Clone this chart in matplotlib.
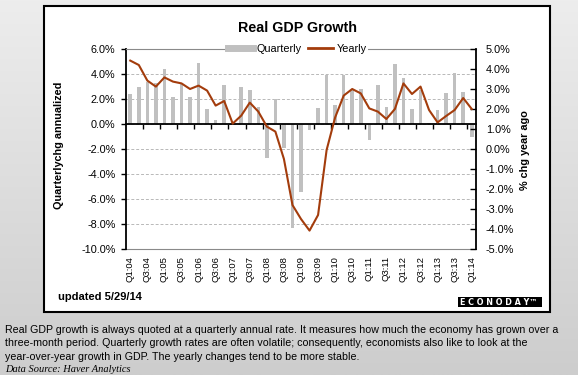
import numpy as np
import matplotlib
matplotlib.use("Agg")
import matplotlib.pyplot as plt
from matplotlib.patches import Rectangle
from matplotlib.lines import Line2D
from matplotlib.ticker import FuncFormatter

plt.rcParams['font.family'] = ['Liberation Sans', 'DejaVu Sans']

# ---------------- data ----------------
quarters = [f"Q{q}:{y:02d}" for y in range(4, 15) for q in (1, 2, 3, 4)][:41]
quarterly = [2.4, 3.0, 3.4, 3.3, 4.4, 2.2, 3.2, 2.2, 4.9, 1.2, 0.3, 3.1, 0.2, 3.0,
             2.7, 1.4, -2.7, 2.0, -1.9, -8.3, -5.4, -0.5, 1.3, 3.9, 1.5, 3.9, 2.7,
             2.8, -1.3, 3.1, 1.4, 4.8, 3.7, 1.2, 2.7, 0.1, 1.1, 2.5, 4.1, 2.6, -1.0]
yearly = [4.42, 4.2, 3.42, 3.12, 3.58, 3.37, 3.28, 3.0, 3.17, 2.92, 2.17, 2.4, 1.27,
          1.67, 2.32, 1.87, 1.12, 0.87, -0.5, -2.8, -3.5, -4.08, -3.3, -0.05, 1.58,
          2.67, 3.0, 2.78, 2.03, 1.87, 1.5, 2.0, 3.28, 2.75, 3.12, 1.95, 1.33, 1.65,
          1.95, 2.55, 2.0]
left_ticks = [-10, -8, -6, -4, -2, 0, 2, 4, 6]
right_ticks = [-5, -4, -3, -2, -1, 0, 1, 2, 3, 4, 5]

BAR = '#c0c0c0'
LINE = '#a33c0c'
W, H = 578, 375

fig = plt.figure(figsize=(W / 100, H / 100), dpi=100)

# background (pixel coordinates)
bg = fig.add_axes([0, 0, 1, 1])
bg.set_xlim(0, W)
bg.set_ylim(H, 0)
bg.axis('off')
grad = np.linspace(0, 1, 256).reshape(-1, 1)
bg.imshow(grad, extent=[0, W, H, 0], aspect='auto',
          cmap=matplotlib.colors.LinearSegmentedColormap.from_list('g', ['#ededed', '#cdcdcd']),
          zorder=0)
bg.add_patch(Rectangle((44, 6), 506, 306, facecolor='white', edgecolor='black', lw=1.5, zorder=1))
bg.add_patch(Rectangle((458, 297), 84, 10, facecolor='black', edgecolor='none', zorder=2))
bg.text(499, 302.3, 'E C O N O D A Y\u2122', color='white', fontsize=5.8, fontweight='bold',
        family='DejaVu Sans', ha='center', va='center', zorder=3)
bg.text(297, 28, 'Real GDP Growth', fontsize=10.3, fontweight='bold', ha='center', va='center')
bg.text(58, 297, 'updated 5/29/14', fontsize=8, fontweight='bold', ha='left', va='center')
bg.text(58.5, 145, 'Quarterlychg annualized', fontsize=7.8, fontweight='bold',
        rotation=90, ha='center', va='center')
bg.text(524.5, 150, '% chg year ago', fontsize=7.8, fontweight='bold',
        rotation=90, ha='center', va='center')
desc = ["Real GDP growth is always quoted at a quarterly annual rate. It measures how much the economy has grown over a",
        "three-month period. Quarterly growth rates are often volatile; consequently, economists also like to look at the",
        "year-over-year growth in GDP. The yearly changes tend to be more stable."]
for i, line in enumerate(desc):
    bg.text(5, 330 + i * 13.5, line, fontsize=7.65, ha='left', va='center')
bg.text(5, 369, 'Data Source: Haver Analytics', fontsize=7.5, style='italic',
        family='Liberation Serif', ha='left', va='center')

# main axes
ax = fig.add_axes([126 / W, 1 - 249 / H, 350 / W, 200 / H])
x = np.arange(len(quarterly))
ax.bar(x, quarterly, width=0.42, color=BAR, zorder=2)
ax.set_xlim(-0.5, len(x) - 0.5)
ax.set_ylim(-10, 6)
ax.set_yticks(left_ticks)
ax.yaxis.set_major_formatter(FuncFormatter(lambda v, p: f"{v:.1f}%"))
ax.yaxis.grid(True, linestyle=(0, (3, 2)), color='#b8b8b8', lw=0.7)
ax.set_axisbelow(True)
ax.tick_params(axis='y', direction='out', length=3.5, width=1, pad=4, labelsize=7.8)
ax.spines['right'].set_visible(False)
ax.spines['top'].set_color('#8a8a8a')
ax.spines['left'].set_linewidth(1.3)
ax.spines['bottom'].set_position(('data', 0))
ax.spines['bottom'].set_linewidth(1.3)
ax.set_xticks(np.arange(1.5, len(x) - 1, 2))
ax.tick_params(axis='x', direction='out', length=3.5, width=1, labelbottom=False)

sec = ax.secondary_xaxis('bottom')
sec.set_xticks(x[::2], [quarters[i] for i in x[::2]])
sec.tick_params(axis='x', length=0, pad=5, labelsize=6.8, labelrotation=90)
sec.spines['bottom'].set_color('#8a8a8a')

ax2 = ax.twinx()
ax2.plot(x, yearly, color=LINE, lw=1.5, zorder=3)
ax2.set_ylim(-5, 5)
ax2.set_yticks(right_ticks)
ax2.yaxis.set_major_formatter(FuncFormatter(lambda v, p: f"{v:.1f}%"))
ax2.tick_params(axis='y', direction='in', length=4, width=1, pad=7, labelsize=7.8)
for s in ('top', 'bottom', 'left'):
    ax2.spines[s].set_visible(False)
ax2.spines['right'].set_linewidth(1.3)

handles = [Line2D([], [], color=BAR, lw=5), Line2D([], [], color=LINE, lw=2)]
leg = ax2.legend(handles, ['Quarterly', 'Yearly'], ncol=2, loc='center',
                 bbox_to_anchor=(0.49, 1.0), frameon=True, facecolor='white',
                 edgecolor='none', framealpha=1, fancybox=False, fontsize=7.8,
                 handlelength=2.3, handletextpad=0.3, columnspacing=0.6, borderpad=0.15)

fig.savefig('out.png', dpi=100)
